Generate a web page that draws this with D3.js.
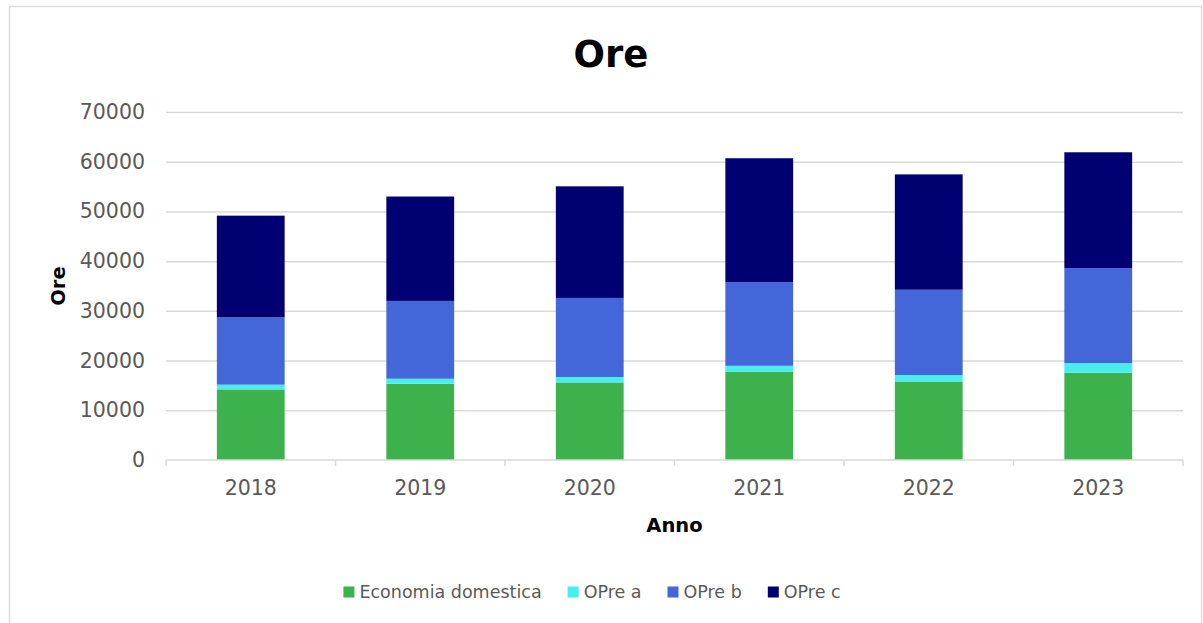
<!DOCTYPE html>
<html>
<head>
<meta charset="utf-8">
<script src="https://cdn.jsdelivr.net/npm/d3@7"></script>
<style>
  html, body { margin: 0; padding: 0; background: #fff; }
  svg { display: block; }
  text { font-family: "DejaVu Sans", sans-serif; }
</style>
</head>
<body>
<svg id="chart" width="1203" height="623"></svg>
<script>
// ---- data ----
const years = ["2018", "2019", "2020", "2021", "2022", "2023"];
const seriesNames = ["Economia domestica", "OPre a", "OPre b", "OPre c"];
const economiaDomestica = [14200, 15350, 15600, 17750, 15800, 17550];
const opreA = [950, 1000, 1100, 1200, 1300, 1950];
const opreB = [13550, 15650, 15900, 16800, 17150, 19100];
const opreC = [20450, 21000, 22450, 24950, 23200, 23300];
const yTicks = [0, 10000, 20000, 30000, 40000, 50000, 60000, 70000];
const colors = ["#3DB14B", "#48EEEE", "#4366D8", "#000072"];

// table built from arrays
const seriesValues = [economiaDomestica, opreA, opreB, opreC];
const table = years.map((yr, i) => {
  const row = { year: yr };
  seriesNames.forEach((s, k) => row[s] = seriesValues[k][i]);
  return row;
});

const svg = d3.select("#chart");
const W = 1203, H = 623;
const plot = { left: 166, right: 1183, top: 112, bottom: 460 };

// chart border
svg.append("rect")
  .attr("x", 9.5).attr("y", 6.5)
  .attr("width", 1192).attr("height", 630)
  .attr("fill", "#fff").attr("stroke", "#d9d9d9").attr("stroke-width", 1.3);

const x = d3.scaleBand().domain(years)
  .range([plot.left, plot.right]).paddingInner(0.6).paddingOuter(0.3);
const y = d3.scaleLinear().domain([0, 70000]).range([plot.bottom, plot.top]);

// gridlines
const grid = svg.append("g")
  .attr("transform", `translate(${plot.left},0)`)
  .call(d3.axisLeft(y).tickValues(yTicks.filter(t => t > 0))
    .tickSize(-(plot.right - plot.left)).tickFormat(""));
grid.select(".domain").remove();
grid.selectAll("line").attr("stroke", "#d9d9d9").attr("stroke-width", 1.5);

// y tick labels
const yAxis = svg.append("g")
  .attr("transform", `translate(${plot.left},0)`)
  .call(d3.axisLeft(y).tickValues(yTicks).tickSize(0).tickPadding(21)
    .tickFormat(d3.format("d")));
yAxis.select(".domain").remove();
yAxis.selectAll("text")
  .attr("fill", "#595959")
  .style("font-size", "20.5px")
  .style("font-family", "'DejaVu Sans', sans-serif");

// stacked bars
const stack = d3.stack().keys(seriesNames)(table);
svg.append("g").selectAll("g")
  .data(stack).join("g")
  .attr("fill", (d, i) => colors[i])
  .selectAll("rect")
  .data(d => d).join("rect")
  .attr("x", d => x(d.data.year))
  .attr("width", x.bandwidth())
  .attr("y", d => y(d[1]))
  .attr("height", d => y(d[0]) - y(d[1]));

// x axis line with ticks at category boundaries
const step = x.step();
const boundaries = d3.range(years.length + 1).map(i => plot.left + i * step);
const xAxisG = svg.append("g");
xAxisG.append("line")
  .attr("x1", plot.left).attr("x2", plot.right)
  .attr("y1", y(0)).attr("y2", y(0))
  .attr("stroke", "#d9d9d9").attr("stroke-width", 1.5);
xAxisG.selectAll("line.tick").data(boundaries).join("line")
  .attr("class", "tick")
  .attr("x1", d => d).attr("x2", d => d)
  .attr("y1", y(0)).attr("y2", y(0) + 6)
  .attr("stroke", "#d9d9d9").attr("stroke-width", 1.5);
xAxisG.selectAll("text").data(years).join("text")
  .attr("x", d => x(d) + x.bandwidth() / 2)
  .attr("y", y(0) + 35)
  .attr("text-anchor", "middle")
  .attr("fill", "#595959")
  .style("font-size", "20.5px")
  .text(d => d);

// title
svg.append("text")
  .attr("x", 611).attr("y", 67)
  .attr("text-anchor", "middle")
  .style("font-size", "37px").style("font-weight", "bold")
  .attr("fill", "#000")
  .text("Ore");

// axis titles
svg.append("text")
  .attr("x", (plot.left + plot.right) / 2).attr("y", 532)
  .attr("text-anchor", "middle")
  .style("font-size", "19.5px").style("font-weight", "bold")
  .attr("fill", "#000")
  .text("Anno");

svg.append("text")
  .attr("transform", `translate(65,${(plot.top + plot.bottom) / 2}) rotate(-90)`)
  .attr("text-anchor", "middle")
  .style("font-size", "19.5px").style("font-weight", "bold")
  .attr("fill", "#000")
  .text("Ore");

// legend
const legend = svg.append("g");
let cx = 0;
const items = legend.selectAll("g").data(seriesNames).join("g");
items.append("rect")
  .attr("width", 11).attr("height", 11)
  .attr("y", -11.5)
  .attr("fill", (d, i) => colors[i]);
items.append("text")
  .attr("x", 16).attr("y", 0)
  .attr("fill", "#595959")
  .style("font-size", "17.5px")
  .text(d => d);
items.each(function() {
  const g = d3.select(this);
  g.attr("transform", `translate(${cx},0)`);
  const w = 16 + g.select("text").node().getComputedTextLength();
  cx += w + 26;
});
const totalW = cx - 26;
legend.attr("transform", `translate(${592 - totalW / 2},598)`);
</script>
</body>
</html>
